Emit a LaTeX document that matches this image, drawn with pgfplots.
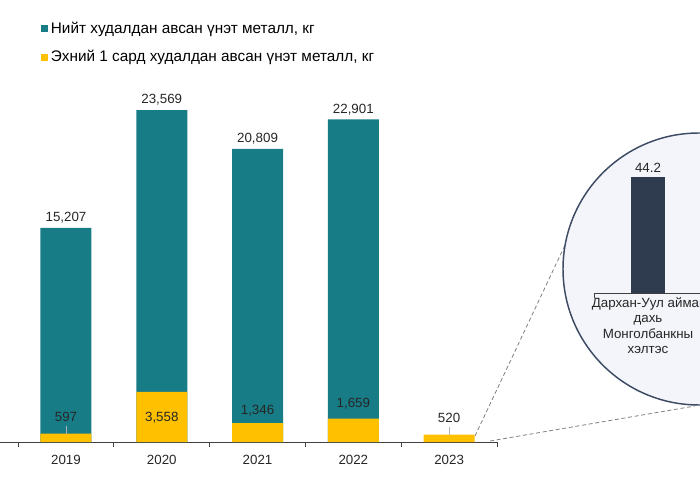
\documentclass[border=0pt]{standalone}
\usepackage{fontspec}
\setmainfont{Liberation Sans}
\usepackage{pgfplots}
\usepackage{pgfplotstable}
\pgfplotsset{compat=1.18}

\definecolor{tealbar}{HTML}{187C86}
\definecolor{yellowbar}{HTML}{FFC000}
\definecolor{darkbar}{HTML}{2F3B4E}
\definecolor{circline}{HTML}{3D4B63}
\definecolor{circfill}{HTML}{F3F5FA}
\definecolor{axisgray}{HTML}{404040}

% total sold, kg
\pgfplotstableread{
x y
0 15207
1 23569
2 20809
3 22901
}\totaltbl
% sold in first month, kg (dy = label offset above bar top, pt)
\pgfplotstableread{
x y dy
0 597 12.5
1 3558 -19.5
2 1346 9
3 1659 11
4 520 12.5
}\firsttbl

\begin{document}
\begin{tikzpicture}
\path[use as bounding box, clip] (0,0) rectangle (525pt,375pt);

% zoom guide lines
\draw[gray, dashed, dash pattern=on 3pt off 2pt, line width=0.6pt]
  (356.25pt,48pt) -- (424.5pt,192.75pt)
  (367.5pt,44.25pt) -- (521.25pt,70.5pt);

\begin{axis}[
  at={(0pt,43.5pt)}, anchor=south west,
  scale only axis, width=372.75pt, height=264.1pt,
  ymin=0, ymax=25000,
  xmin=-0.689, xmax=4.5,
  axis x line*=bottom, axis y line=none,
  axis line style={axisgray, line width=0.6pt},
  xtick={0,1,2,3,4},
  xticklabels={2019,2020,2021,2022,2023},
  minor xtick={-0.5,0.5,1.5,2.5,3.5,4.5},
  major tick length=0pt, minor tick length=3.75pt,
  tick align=outside,
  minor tick style={axisgray, line width=0.6pt},
  ticklabel style={font=\fontsize{10}{12}\selectfont, text=black!85},
  xticklabel style={yshift=-6pt},
  /pgf/number format/assume math mode=true,
  /pgf/number format/1000 sep={,},
  ybar, bar width=38.25pt,
  legend style={at={(axis description cs:0.0825,1.2017)}, anchor=north west,
    draw=none, fill=none, font=\fontsize{11.5}{13.5}\selectfont,
    row sep=7.5pt, inner sep=0pt},
  legend cell align=left,
  legend image code/.code={\fill[#1] (0pt,-2.6pt) rectangle (5.2pt,2.6pt);},
]
\addplot[fill=tealbar, draw=none, bar shift=0pt,
  nodes near coords,
  every node near coord/.append style={font=\fontsize{10}{12}\selectfont, text=black!85}]
  table[x=x, y=y] {\totaltbl};
\addplot[fill=yellowbar, draw=none, bar shift=0pt,
  visualization depends on={\thisrow{dy} \as \dy},
  nodes near coords,
  every node near coord/.append style={font=\fontsize{10}{12}\selectfont, text=black!85,
    anchor=center, yshift=\dy pt}]
  table[x=x, y=y] {\firsttbl};
\legend{{Нийт худалдан авсан үнэт металл, кг}, {Эхний 1 сард худалдан авсан үнэт металл, кг}}
\draw[gray!60, line width=0.6pt] (axis cs:0,597) -- ([yshift=6pt]axis cs:0,597);
\draw[gray!60, line width=0.6pt] (axis cs:4,520) -- ([yshift=6pt]axis cs:4,520);
\end{axis}

% magnifier circle
\draw[draw=circline, fill=circfill, line width=1.1pt] (524.25pt,173.25pt) circle (102pt);

\begin{axis}[
  at={(445.5pt,155.25pt)}, anchor=south west,
  scale only axis, width=81pt, height=98.4pt,
  ymin=0, ymax=50, xmin=-0.5, xmax=0.5,
  axis x line*=bottom, axis y line=none,
  axis line style={axisgray, line width=0.6pt},
  xtick={0},
  xticklabels={{Дархан-Уул аймаг\\дахь\\Монголбанкны\\хэлтэс}},
  xticklabel style={align=center, font=\fontsize{10}{11.5}\selectfont, text=black!85},
  minor xtick={-0.5,0.5},
  major tick length=0pt, minor tick length=3.75pt,
  tick align=outside,
  minor tick style={axisgray, line width=0.6pt},
  /pgf/number format/assume math mode=true,
  ybar, bar width=25.5pt,
]
\addplot[fill=darkbar, draw=none, bar shift=0pt,
  nodes near coords,
  every node near coord/.append style={font=\fontsize{10}{12}\selectfont, text=black!85}]
  coordinates {(0,44.2)};
\end{axis}
\end{tikzpicture}
\end{document}
